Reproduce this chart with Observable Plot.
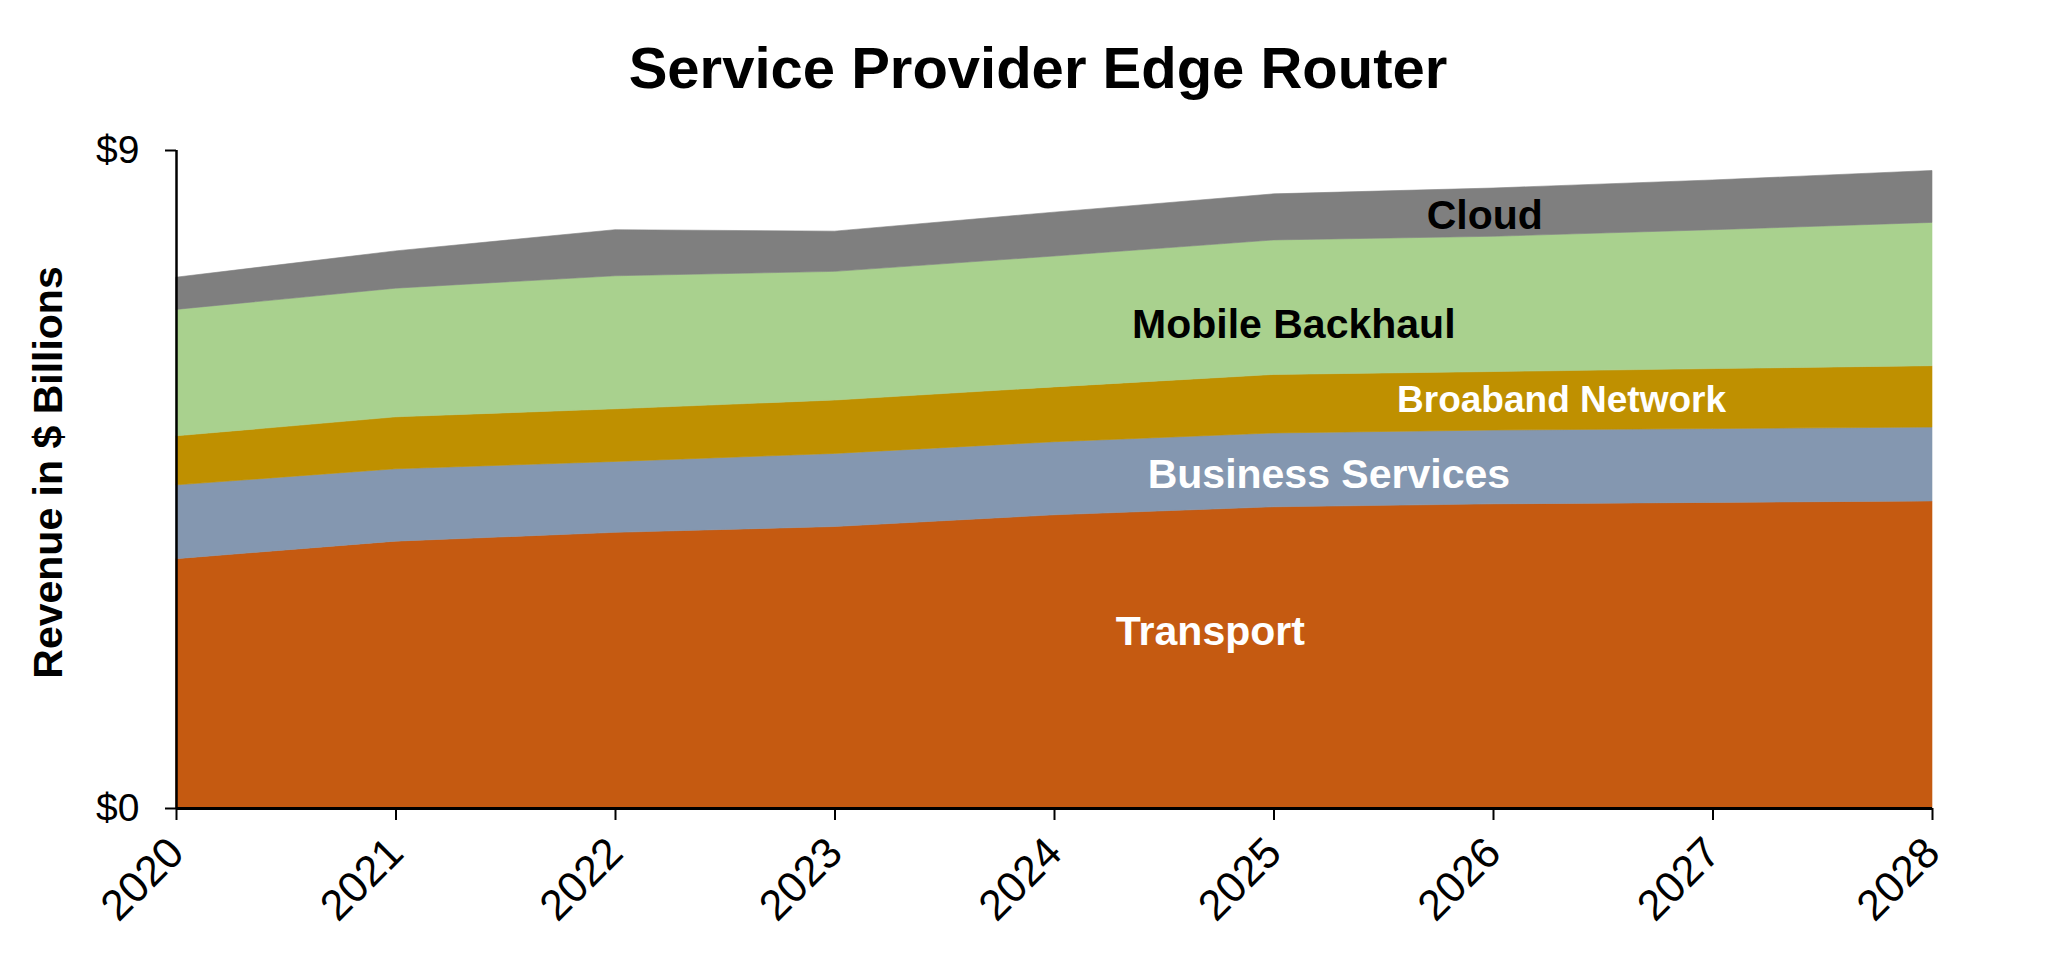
<!DOCTYPE html>
<html>
<head>
<meta charset="utf-8">
<script src="https://cdn.jsdelivr.net/npm/d3@7"></script>
<script src="https://cdn.jsdelivr.net/npm/@observablehq/plot@0.6"></script>
<style>
  html, body { margin: 0; padding: 0; background: #fff; }
  body { width: 2048px; height: 958px; overflow: hidden; font-family: "Liberation Sans", Arial, sans-serif; }
  #title { width: 2048px; height: 100px; box-sizing: border-box; padding-top: 39px; padding-left: 28px;
           font-size: 58px; line-height: 58px; font-weight: bold; text-align: center; color: #000; }
  #chart svg { display: block; overflow: visible; }
</style>
</head>
<body>
<div id="title">Service Provider Edge Router</div>
<div id="chart"></div>
<script>
// ---- data ----
const years = [2020, 2021, 2022, 2023, 2024, 2025, 2026, 2027, 2028];
const seriesNames = ["Transport", "Business Services", "Broaband Network", "Mobile Backhaul", "Cloud"];
const transport        = [3.41, 3.65, 3.77, 3.85, 4.01, 4.12, 4.16, 4.18, 4.20];
const businessServices = [1.01, 0.99, 0.97, 1.00, 1.00, 1.01, 1.01, 1.01, 1.01];
const broadbandNetwork = [0.67, 0.71, 0.72, 0.73, 0.75, 0.80, 0.80, 0.82, 0.84];
const mobileBackhaul   = [1.73, 1.76, 1.82, 1.76, 1.79, 1.84, 1.85, 1.90, 1.96];
const cloud            = [0.44, 0.51, 0.63, 0.55, 0.60, 0.63, 0.66, 0.68, 0.71];
const yTickValues = [0, 9];
const yTickLabels = ["$0", "$9"];
const yLabel = "Revenue in $ Billions";

// ---- presentation ----
const seriesColors = ["#C55A11", "#8497B0", "#BF9000", "#A9D18E", "#7F7F7F"];
const labelColors  = ["#fff", "#fff", "#fff", "#000", "#000"];
const labelFontSizes = [41, 41, 37, 41, 41];
// label anchors in data space [year, value]
const labelAnchors = [[2024.71, 2.42], [2025.25, 4.57], [2026.31, 5.58], [2025.09, 6.61], [2025.96, 8.11]];

const seriesValues = [transport, businessServices, broadbandNetwork, mobileBackhaul, cloud];
const table = [];
seriesNames.forEach((s, i) => years.forEach((yr, j) => table.push({series: s, year: yr, value: seriesValues[i][j]})));
const labels = seriesNames.map((s, i) => ({name: s, x: labelAnchors[i][0], y: labelAnchors[i][1], color: labelColors[i], size: labelFontSizes[i]}));

const font = "Liberation Sans, Arial, sans-serif";
const plot = Plot.plot({
  width: 2048,
  height: 858,
  marginLeft: 176,
  marginRight: 116,
  marginTop: 50,
  marginBottom: 150,
  style: {fontFamily: font, background: "#fff", color: "#000", overflow: "visible"},
  x: {type: "linear", domain: [years[0], years[years.length - 1]]},
  y: {domain: [yTickValues[0], yTickValues[yTickValues.length - 1]]},
  color: {domain: seriesNames, range: seriesColors},
  marks: [
    Plot.areaY(table, {x: "year", y: "value", z: "series", fill: "series", order: seriesNames,
                       stroke: "series", strokeWidth: 0.6}),
    Plot.ruleX([years[0]], {y1: yTickValues[0], y2: yTickValues[yTickValues.length - 1], stroke: "#000", strokeWidth: 2.5}),
    Plot.ruleY([0], {stroke: "#000", strokeWidth: 3}),
    Plot.axisY({ticks: yTickValues, tickFormat: (d) => yTickLabels[yTickValues.indexOf(d)], tickSize: 11, tickPadding: 26,
                fontSize: 39, strokeWidth: 2, label: yLabel, labelAnchor: "center", labelArrow: "none", labelOffset: 144}),
    Plot.axisX({ticks: years, tickFormat: (d) => String(d), tickSize: 12, tickPadding: 25, tickRotate: -45,
                fontSize: 43, strokeWidth: 2, label: null}),
    Plot.text(labels, {x: "x", y: "y", text: "name", fill: (d) => d.color, fontSize: (d) => d.size,
                       fontWeight: "bold", textAnchor: "middle", lineAnchor: "middle"})
  ]
});
// style the y-axis label: bold, larger, nudged up slightly as in the reference
const yLab = d3.select(plot).select('g[aria-label="y-axis label"]');
yLab.attr("font-weight", "bold").attr("font-size", 41);
yLab.selectAll("text").each(function () {
  const t = d3.select(this);
  t.attr("transform", "translate(0,-7) " + (t.attr("transform") || ""));
});
document.getElementById("chart").appendChild(plot);
</script>
</body>
</html>
